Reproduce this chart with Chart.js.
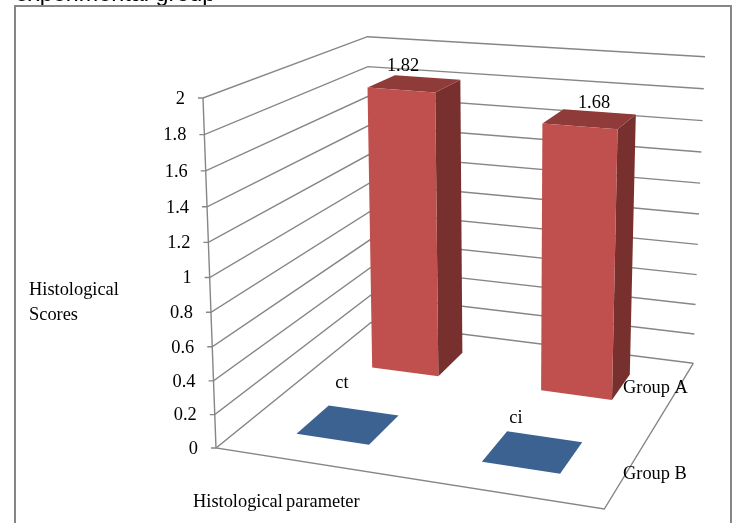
<!DOCTYPE html>
<html>
<head>
<meta charset="utf-8">
<title>Histological scores</title>
<script src="https://cdn.jsdelivr.net/npm/chart.js@4"></script>
<style>
  html, body { margin: 0; padding: 0; background: #fff; overflow: hidden; }
  canvas { display: block; }
</style>
</head>
<body>
<canvas id="scoreChart" width="733" height="523"></canvas>
<script>
// Chart data
const categories = ["ct", "ci"];
const groups = ["Group A", "Group B"];
const groupA = [1.82, 1.68];
const groupB = [0, 0];
const tickLabels = ["0", "0.2", "0.4", "0.6", "0.8", "1", "1.2", "1.4", "1.6", "1.8", "2"];

// Corners of the 3D box on screen: front left, front right, back right, back left
const floorQuad = [[216, 448], [604.3, 509], [693.3, 363.3], [371, 322.5]];
const topQuad = [[203, 98], [614, 132.5], [705, 56.7], [367.5, 36.7]];
const heightWarp = 0.95;
const depthPercent = 0.4;

const gridColor = "#868686";
const serif = '"Liberation Serif", serif';
const faces = [
  { front: "#c0504d", top: "#8f3b39", side: "#78302e" },
  { front: "#3c6291", top: "#3c6291", side: "#2d4a6e" }
];

// Free text, x / y in page pixels
const categoryLabelPos = [[342, 383], [516, 418]];
const groupLabelPos = [[623, 388], [623, 474]];
const valueLabelPos = [[403, 66], [594, 103]];

// unit square -> quad
function makeHomography(q) {
  const [[x0, y0], [x1, y1], [x2, y2], [x3, y3]] = q;
  const sx = x0 - x1 + x2 - x3, sy = y0 - y1 + y2 - y3;
  const dx1 = x1 - x2, dx2 = x3 - x2, dy1 = y1 - y2, dy2 = y3 - y2;
  const den = dx1 * dy2 - dx2 * dy1;
  const g = (sx * dy2 - dx2 * sy) / den;
  const h = (dx1 * sy - sx * dy1) / den;
  const a = x1 - x0 + g * x1, b = x3 - x0 + h * x3;
  const d = y1 - y0 + g * y1, e = y3 - y0 + h * y3;
  return (u, w) => {
    const k = g * u + h * w + 1;
    return [(a * u + b * w + x0) / k, (d * u + e * w + y0) / k];
  };
}

const floorAt = makeHomography(floorQuad);
const topAt = makeHomography(topQuad);

// u = left to right, t = floor to top, w = front to back (all 0..1)
function project(u, t, w) {
  const k = t * heightWarp / (1 - t + t * heightWarp);
  const f = floorAt(u, w), c = topAt(u, w);
  return [f[0] + (c[0] - f[0]) * k, f[1] + (c[1] - f[1]) * k];
}

function polygon(ctx, pts, fill) {
  ctx.beginPath();
  pts.forEach((p, i) => i ? ctx.lineTo(p[0], p[1]) : ctx.moveTo(p[0], p[1]));
  ctx.closePath();
  ctx.fillStyle = fill;
  ctx.fill();
}

function polyline(ctx, pts) {
  ctx.beginPath();
  pts.forEach((p, i) => i ? ctx.lineTo(p[0], p[1]) : ctx.moveTo(p[0], p[1]));
  ctx.stroke();
}

function text(ctx, str, x, y, align) {
  ctx.textAlign = align || "left";
  ctx.fillText(str, x, y);
}

const box3d = {
  id: "box3d",

  // walls, floor, ticks and the outer frame go under the bars
  beforeDatasetsDraw(chart) {
    const ctx = chart.ctx, yScale = chart.scales.y;
    const range = yScale.bottom - yScale.top;

    ctx.save();
    ctx.fillStyle = "#000";
    ctx.textBaseline = "alphabetic";
    ctx.font = '23.4px "Liberation Sans", sans-serif';
    text(ctx, "experimental group", 15, 0.5);

    ctx.strokeStyle = gridColor;
    ctx.lineWidth = 2;
    ctx.strokeRect(15, 6, 716, 600);

    ctx.lineWidth = 1.4;
    ctx.font = "18.4px " + serif;
    ctx.textBaseline = "middle";
    yScale.ticks.forEach(tick => {
      const t = (yScale.bottom - yScale.getPixelForValue(tick.value)) / range;
      const front = project(0, t, 0);
      polyline(ctx, [[front[0] - 5, front[1]], front, project(0, t, 1), project(1, t, 1)]);
      ctx.fillStyle = "#000";
      text(ctx, tick.label, front[0] - 18, front[1] + 1, "right");
    });
    polyline(ctx, [project(0, 1, 0), project(0, 0, 0), project(1, 0, 0), project(1, 0, 1)]);
    ctx.restore();
  },

  // bars take their place and height from the chart's own elements
  beforeDatasetDraw(chart, args) {
    const ctx = chart.ctx, area = chart.chartArea;
    const yScale = chart.scales.y;
    const i = args.index;
    const color = faces[i];
    const wMid = 1 - (i + 0.5) / groups.length;
    const wHalf = depthPercent / groups.length / 2;

    args.meta.data.forEach(bar => {
      const uMid = (bar.x - area.left) / area.width;
      const uHalf = bar.width / area.width / 2;
      const t = (yScale.bottom - bar.y) / (yScale.bottom - yScale.top);
      const u0 = uMid - uHalf, u1 = uMid + uHalf;
      const w0 = wMid - wHalf, w1 = wMid + wHalf;

      polygon(ctx, [project(u1, 0, w0), project(u1, 0, w1), project(u1, t, w1), project(u1, t, w0)], color.side);
      polygon(ctx, [project(u0, t, w0), project(u1, t, w0), project(u1, t, w1), project(u0, t, w1)], color.top);
      polygon(ctx, [project(u0, 0, w0), project(u1, 0, w0), project(u1, t, w0), project(u0, t, w0)], color.front);
    });
    return false;
  },

  afterDatasetsDraw(chart) {
    const ctx = chart.ctx;
    ctx.save();
    ctx.fillStyle = "#000";
    ctx.font = "18.4px " + serif;
    ctx.textBaseline = "middle";

    groupA.forEach((v, i) => text(ctx, String(v), valueLabelPos[i][0], valueLabelPos[i][1], "center"));
    categories.forEach((c, i) => text(ctx, c, categoryLabelPos[i][0], categoryLabelPos[i][1], "center"));
    groups.forEach((g, i) => text(ctx, g, groupLabelPos[i][0], groupLabelPos[i][1]));

    text(ctx, "Histological", 29, 290);
    text(ctx, "Scores", 29, 315);
    ctx.wordSpacing = "-1.4px";
    text(ctx, "Histological parameter", 193, 502);
    ctx.restore();
  }
};

new Chart(document.getElementById("scoreChart"), {
  type: "bar",
  data: {
    labels: categories,
    datasets: [
      { label: groups[0], data: groupA, grouped: false, barPercentage: depthPercent, categoryPercentage: 1 },
      { label: groups[1], data: groupB, grouped: false, barPercentage: depthPercent, categoryPercentage: 1 }
    ]
  },
  options: {
    responsive: false,
    animation: false,
    layout: { padding: 0 },
    plugins: { legend: { display: false }, tooltip: { enabled: false } },
    scales: {
      x: { display: false },
      y: {
        display: false,
        min: 0,
        max: 2,
        ticks: { stepSize: 0.2, callback: (v, i) => tickLabels[i] }
      }
    }
  },
  plugins: [box3d]
});
</script>
</body>
</html>
